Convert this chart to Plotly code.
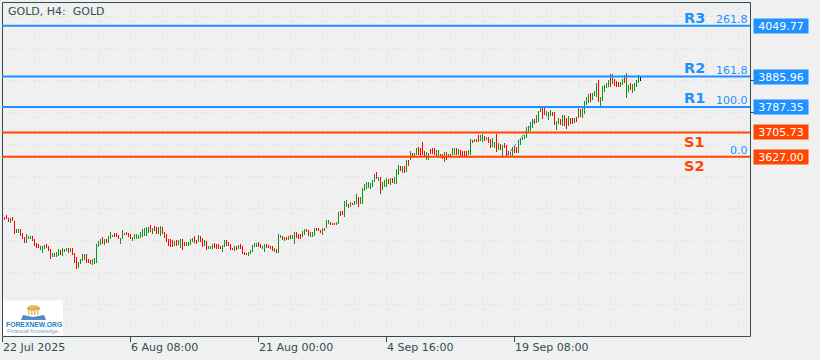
import plotly.graph_objects as go

HIGH = [3434,3438,3429,3429,3434,3420,3394,3394,3394,3381,3368,3378,3371,3371,3371,3362,3349,3346,3339,3339,3342,3346,3339,3329,3317,3317,3320,3329,3326,3333,3329,3333,3333,3333,3333,3317,3304,3287,3297,3313,3313,3313,3297,3294,3297,3300,3346,3355,3362,3368,3362,3362,3371,3384,3375,3381,3381,3375,3365,3391,3381,3384,3381,3378,3368,3378,3378,3375,3384,3394,3397,3400,3400,3407,3397,3404,3400,3400,3404,3400,3384,3378,3362,3362,3358,3355,3358,3358,3362,3362,3352,3352,3352,3362,3365,3371,3358,3375,3371,3365,3358,3355,3339,3339,3346,3349,3346,3346,3339,3342,3358,3358,3352,3346,3333,3339,3339,3342,3346,3339,3320,3317,3320,3326,3342,3349,3349,3352,3346,3339,3346,3346,3342,3339,3339,3333,3329,3378,3375,3371,3368,3368,3371,3375,3375,3384,3384,3378,3378,3388,3394,3394,3391,3384,3384,3397,3397,3397,3391,3397,
        3397,3423,3423,3416,3413,3412,3416,3450,3452,3452,3484,3488,3475,3481,3478,3484,3507,3497,3497,3526,3539,3546,3546,3542,3552,3571,3578,3562,3562,3546,3552,3559,3555,3559,3559,3562,3588,3601,3597,3597,3597,3617,3617,3646,3639,3639,3655,3659,3655,3675,3646,3642,3639,3652,3655,3655,3649,3649,3636,3636,3642,3642,3636,3636,3655,3655,3655,3652,3649,3646,3646,3646,3649,3684,3681,3684,3684,3697,3697,3701,
        3694,3691,3691,3684,3688,3675,3701,3672,3668,3665,3672,3665,3646,3641,3659,3661,3659,3678,3688,3691,3697,3723,3726,3739,3749,3749,3762,3775,3784,3784,3784,3775,3772,3778,3772,3772,3743,3752,3749,3762,3762,3752,3759,3752,3752,3752,3755,3784,3781,3784,3807,3820,3830,3833,3833,3839,3865,3875,3820,3855,3859,3865,3875,3894,3894,3878,3872,3868,3868,3878,3891,3897,3859,3865,3862,3865,3875,3891,3885]
LOW = [3423,3427,3417,3413,3419,3378,3381,3381,3371,3362,3349,3349,3362,3362,3355,3339,3333,3333,3326,3317,3329,3333,3323,3297,3304,3304,3304,3307,3310,3307,3320,3323,3317,3320,3310,3284,3265,3268,3281,3291,3294,3284,3284,3281,3278,3281,3284,3336,3342,3346,3342,3349,3349,3362,3368,3368,3368,3362,3346,3362,3375,3375,3368,3362,3355,3362,3362,3362,3365,3368,3371,3371,3381,3384,3378,3388,3378,3378,3371,3378,3365,3352,3339,3336,3336,3339,3339,3342,3333,3326,3339,3339,3339,3342,3352,3349,3346,3352,3352,3336,3339,3326,3329,3329,3329,3333,3329,3329,3329,3320,3336,3339,3339,3326,3326,3323,3326,3329,3329,3313,3310,3310,3307,3313,3320,3336,3336,3336,3333,3329,3320,3333,3333,3329,3323,3320,3317,3317,3365,3358,3355,3358,3358,3362,3362,3346,3365,3362,3362,3368,3375,3384,3371,3368,3368,3371,3388,3388,3381,3375,
       3388,3397,3410,3410,3407,3407,3407,3410,3436,3439,3433,3465,3462,3465,3471,3471,3475,3465,3475,3475,3517,3523,3526,3523,3530,3546,3555,3549,3507,3520,3530,3530,3539,3536,3542,3539,3539,3568,3581,3575,3575,3578,3597,3617,3623,3630,3633,3633,3630,3633,3626,3617,3617,3636,3636,3633,3630,3626,3626,3620,3610,3617,3626,3626,3633,3633,3633,3633,3626,3626,3626,3626,3633,3633,3672,3675,3675,3675,3678,3675,
       3678,3681,3672,3655,3659,3655,3642,3649,3649,3630,3655,3626,3633,3630,3630,3639,3639,3639,3665,3681,3684,3688,3707,3710,3720,3733,3736,3739,3772,3749,3762,3759,3746,3759,3759,3730,3714,3733,3730,3726,3726,3717,3726,3733,3733,3736,3739,3752,3755,3752,3765,3794,3801,3804,3810,3823,3820,3804,3791,3807,3836,3849,3852,3852,3862,3855,3852,3852,3852,3859,3865,3817,3836,3843,3833,3839,3852,3865,3872]
DIRECTION = ("R R R G R R G G R R R G G G R R R R G G G R R R G G G G R G G G R G R R R G G G G R R R G G G G "
             "G R G R G G G R R R G G R R R R G G G G G G G G G R G R R G G R R R R R R G R G G R R G G G G R R G "
             "R R G R G G G R R R R G G R R R R G R G R R R R G G G G G R R G G R R R R G R G G R G R G R G G R R R G G R R G G G R R "
             "R G R G G R R R G G R R G G R G R G G R G G G G G G G G R G R G G G R G R G G G R G R G R G R G G R R R R G G "
             "R R R G G R R G R G R G G R G R R R R G G R G G R G G R G R R G G R G "
             "R G R R R G G R R G G G G G G G G R G G G R R G G G R R G G R G R R G R R G R G R G G G G R G G G R G G G G G R G R R R G G R G G R G G G G").split()
BAR_INDEX = list(range(1, len(HIGH) + 1))

LEVEL_NAMES = ["R3", "R2", "R1", "S1", "S2"]
LEVELS = [4049.77, 3885.96, 3787.35, 3705.73, 3627.00]
LEVEL_TEXT = ["4049.77", "3885.96", "3787.35", "3705.73", "3627.00"]
LEVEL_COLORS = ["#1E90FF", "#1E90FF", "#1E90FF", "#FF4500", "#FF4500"]
FIBO_TEXT = ["261.8", "161.8", "100.0", "0.0"]
FIBO_PRICE = [4049.77, 3885.96, 3787.35, 3627.00]
TREND_X = [252, 267]
TREND_Y = [3630, 3752]
X_TICKS = [0, 64, 128, 192, 256]
X_LABELS = ["22 Jul 2025", "6 Aug 08:00", "21 Aug 00:00", "4 Sep 16:00", "19 Sep 08:00"]
X_GRID = [16, 32, 48, 80, 96, 112, 144, 160, 176, 208, 224, 240, 272, 288, 304, 336, 352, 368]
Y_TICKS = [3873.2, 3770.0]
Y_GRID = [4079.8, 3976.5, 3666.7, 3563.4, 3460.2, 3356.9, 3253.6, 3150.4]

BG = "#F0F0F0"; INK = "#2F4F4F"; GRID = "#E4E4E4"; FONT = "DejaVu Sans"
UP = "#149414"; DOWN = "#FF0000"
L, T, W, H_ = 2, 2, 748, 334
fx = lambda p: (p - L) / W
fy = lambda p: 1 - (p - T) / H_

fig = go.Figure()
fig.add_bar(x=BAR_INDEX, base=LOW, y=[h - l for h, l in zip(HIGH, LOW)], width=0.5,
            marker=dict(color=[UP if d == "G" else DOWN for d in DIRECTION], line=dict(width=0)),
            hoverinfo="skip")
fig.add_scatter(x=TREND_X, y=TREND_Y, mode="lines", line=dict(color="#1E90FF", width=1, dash="3px,3px"), hoverinfo="skip")

shapes = [dict(type="rect", xref="paper", yref="paper", x0=fx(2.5), x1=fx(750.5), y0=fy(336.5), y1=fy(2.5),
               line=dict(color=INK, width=1), layer="above")]
for v, c in zip(LEVELS, LEVEL_COLORS):
    shapes.append(dict(type="line", xref="paper", yref="y", x0=0, x1=1, y0=v, y1=v, line=dict(color=c, width=2), layer="above"))

def box(x0, x1, y0, y1, color):
    shapes.append(dict(type="rect", xref="paper", yref="paper", x0=fx(x0), x1=fx(x1), y0=fy(y1), y1=fy(y0),
                       fillcolor=color, line=dict(width=0), layer="above"))
box(3, 63, 300.5, 335.5, "#FFFFFF")
shapes.append(dict(type="circle", xref="paper", yref="paper", x0=fx(27), x1=fx(40), y0=fy(311), y1=fy(305),
                   fillcolor="#E3BE62", line=dict(width=0), layer="above"))
box(27, 40, 308, 309.5, "#D9A93F")
for cx in (28, 31, 34, 37):
    box(cx, cx + 1.5, 309.5, 315, "#E3BE62")
shapes.append(dict(type="path", xref="paper", yref="paper",
                   path=f"M {fx(21)} {fy(320)} L {fx(23)} {fy(315)} L {fx(33)} {fy(317)} L {fx(44)} {fy(315)} L {fx(46)} {fy(320)} Z",
                   fillcolor="#4F8CC9", line=dict(width=0), layer="above"))

ann = []
def text(s, x, y, size, color, anchor="left", bold=False, family=FONT, xref="paper", yref="paper", yanchor="middle", **kw):
    ann.append(dict(text=f"<b>{s}</b>" if bold else s, x=x, y=y, xref=xref, yref=yref, xanchor=anchor, yanchor=yanchor,
                    showarrow=False, borderpad=0, font=dict(family=family, size=size, color=color), **kw))

text("GOLD, H4:\u00a0\u00a0GOLD", fx(7), fy(11.5), 11, INK)
for k, s in zip(X_TICKS, X_LABELS):
    text(s, k, fy(347.5), 11, INK, xref="x", xshift=-0.5)
for v, s, c in zip(LEVELS, LEVEL_TEXT, LEVEL_COLORS):
    text(s, fx(753), v, 11, "#FFFFFF", yref="y", bgcolor=c, width=54, height=14, align="center")
for s, y, c in zip(LEVEL_NAMES, [18, 68, 98, 142, 165.5], LEVEL_COLORS):
    text(s, fx(682.5), fy(y), 14.5, c, bold=True)
for s, v in zip(FIBO_TEXT, FIBO_PRICE):
    text(s, fx(748.5), v, 11, "#1E90FF", anchor="right", yref="y", yanchor="bottom", yshift=-1)
text("FOREXNEW.ORG", fx(33.5), fy(324), 6.8, "#1F7FBF", anchor="center", bold=True, family="Liberation Sans")
text("Financial Knowledge.", fx(33.5), fy(331), 5.5, "#6FA3CF", anchor="center", family="Liberation Sans")

fig.update_layout(
    width=820, height=360, autosize=False, paper_bgcolor=BG, plot_bgcolor=BG, showlegend=False,
    margin=dict(l=L, r=820 - L - W, t=T, b=360 - T - H_), bargap=0,
    shapes=shapes, annotations=ann,
    xaxis=dict(range=[-0.25, 373.75], tickmode="array", tickvals=X_TICKS, showticklabels=False, ticks="outside", ticklen=5,
               tickcolor=INK, tickwidth=1, showgrid=True, gridcolor=GRID, griddash="3px,3px", gridwidth=1, zeroline=False,
               showline=False, minor=dict(tickmode="array", tickvals=X_GRID, showgrid=True, gridcolor=GRID, griddash="3px,3px", gridwidth=1, ticks="")),
    yaxis=dict(range=[3048.7, 4126.6], side="right", tickmode="array", tickvals=Y_TICKS, showticklabels=False, ticks="outside", ticklen=3,
               tickcolor=INK, tickwidth=1, showgrid=True, gridcolor=GRID, griddash="3px,3px", gridwidth=1, zeroline=False,
               showline=False, minor=dict(tickmode="array", tickvals=Y_GRID, showgrid=True, gridcolor=GRID, griddash="3px,3px", gridwidth=1, ticks="")),
)
fig.write_html("out.html", config=dict(displayModeBar=False),
               post_script="document.body.style.margin='0';document.body.style.overflow='hidden';")
